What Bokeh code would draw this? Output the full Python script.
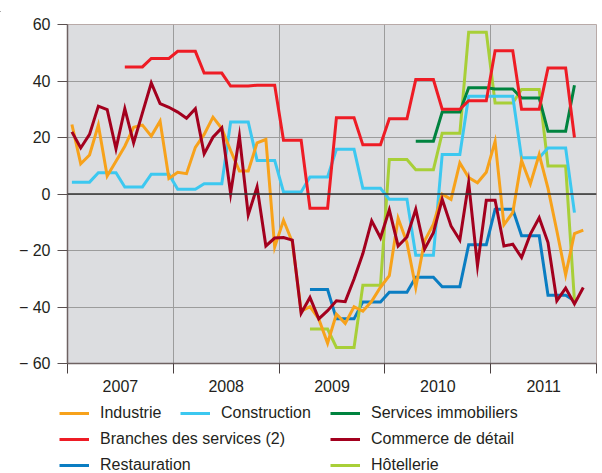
from bokeh.plotting import figure
from bokeh.models import FixedTicker, Legend, LegendItem, Span, Div
from bokeh.layouts import column
from bokeh.embed import file_html
from bokeh.resources import INLINE

# ---------------- data (monthly, Jan 2007 = month 0) ----------------
year_labels = ["2007", "2008", "2009", "2010", "2011"]
y_ticks = [-60, -40, -20, 0, 20, 40, 60]
y_tick_labels = ["\u2212 60", "\u2212 40", "\u2212 20", "0", "20", "40", "60"]

industrie_start = 0
industrie = [24.6, 10.7, 13.8, 24.4, 6.4, 11.6, 16.9, 23.6, 24.4, 20.5, 25.8, 5.5,
             7.7, 7.2, 16.5, 21.1, 27.2, 23.2, 15.4, 8.1, 8.1, 18.1, 19.3, -18.8,
             -9.3, -17.0, -41.5, -39.9, -44.2, -52.8, -42.5, -45.8, -39.9, -41.5, -38.0, -33.0,
             -28.9, -8.6, -17.2, -33.1, -16.6, -10.7, -0.1, -1.9, 11.0, 5.8, 4.0, 7.7,
             18.6, -10.9, -6.6, 11.9, 3.6, 14.0, 2.0, -13.0, -28.6, -14.0, -12.8]

commerce_start = 0
commerce = [22.0, 16.3, 21.1, 31.1, 29.9, 16.0, 30.2, 18.1, 28.7, 39.3, 32.0, 30.7,
            29.0, 26.8, 30.2, 14.2, 20.1, 23.4, 0.1, 20.5, -7.4, 2.5, -18.4, -15.6,
            -15.4, -16.3, -42.2, -36.6, -44.2, -41.3, -37.8, -38.1, -30.1, -21.1, -9.5, -15.5,
            -5.6, -18.4, -15.2, -5.4, -19.5, -13.7, -1.9, -11.3, -16.3, 4.0, -25.4, -2.2,
            -2.2, -18.4, -17.8, -22.5, -14.2, -8.4, -17.2, -37.8, -33.3, -38.9, -33.1]

construction_start = 0
construction = [4.2, 4.2, 4.2, 7.5, 7.5, 7.5, 2.5, 2.5, 2.5, 7.0, 7.0, 7.0,
                1.7, 1.7, 1.7, 3.6, 3.6, 3.6, 25.5, 25.5, 25.5, 11.9, 11.9, 11.9,
                0.7, 0.7, 0.7, 6.0, 6.0, 6.0, 15.8, 15.8, 15.8, 2.0, 2.0, 2.0,
                -1.9, -1.9, -1.9, -21.7, -21.7, -21.7, 14.0, 14.0, 14.0, 34.6, 34.6, 34.6,
                34.6, 34.6, 34.6, 12.8, 12.8, 12.8, 16.3, 16.3, 16.3, -6.6]

branches_start = 6
branches = [45.0, 45.0, 45.0, 48.0, 48.0, 48.0,
            50.5, 50.5, 50.5, 42.8, 42.8, 42.8, 38.2, 38.2, 38.2, 38.5, 38.5, 38.5,
            19.0, 19.0, 19.0, -5.0, -5.0, -5.0, 27.0, 27.0, 27.0, 17.4, 17.4, 17.4,
            26.6, 26.6, 26.6, 40.5, 40.5, 40.5, 30.0, 30.0, 30.0, 33.0, 33.0, 33.0,
            50.7, 50.7, 50.7, 30.0, 30.0, 30.0, 44.6, 44.6, 44.6, 20.0]

immobiliers_start = 39
immobiliers = [18.7, 18.7, 18.7, 29.0, 29.0, 29.0, 37.6, 37.6, 37.6,
               37.2, 37.2, 37.2, 34.0, 34.0, 34.0, 22.2, 22.2, 22.2, 38.5]

restauration_start = 27
restauration = [-33.8, -33.8, -33.8, -44.2, -44.2, -44.2, -38.2, -38.2, -38.2,
                -34.8, -34.8, -34.8, -29.5, -29.5, -29.5, -32.8, -32.8, -32.8, -18.0, -18.0, -18.0,
                -5.4, -5.4, -5.4, -14.8, -14.8, -14.8, -35.8, -35.8, -35.8, -37.8]

hotellerie_start = 27
hotellerie = [-47.8, -47.8, -47.8, -54.3, -54.3, -54.3, -32.3, -32.3, -32.3,
              12.2, 12.2, 12.2, 8.6, 8.6, 8.6, 21.5, 21.5, 21.5, 57.3, 57.3, 57.3,
              32.2, 32.2, 32.2, 37.0, 37.0, 37.0, 9.9, 9.9, 9.9, -37.8]

# ---------------- style ----------------
FONT = "Liberation Sans"
TXT = "#231f20"
W = 600

series = [
    ("Restauration", restauration_start, restauration, "#0a7dc2"),
    ("Hôtellerie", hotellerie_start, hotellerie, "#a8cf38"),
    ("Services immobiliers", immobiliers_start, immobiliers, "#00833f"),
    ("Construction", construction_start, construction, "#3cc8f0"),
    ("Industrie", industrie_start, industrie, "#f7a21b"),
    ("Branches des services (2)", branches_start, branches, "#ee1c25"),
    ("Commerce de détail", commerce_start, commerce, "#a3001e"),
]


def xs(start, vals):
    return [start + i + 0.5 for i in range(len(vals))]


def bare(fig):
    fig.frame_align = False
    fig.axis.visible = False
    fig.grid.visible = False
    fig.outline_line_color = None


# ---------------- top rule (thin gray line across the page) ----------------
rule = Div(text='<div style="width:600px;height:1px;margin-top:4px;'
                'border-top:1px solid #8f8f8f;"></div>',
           width=W, height=5, margin=0)

# ---------------- main chart ----------------
p = figure(width=W, height=393, x_range=(0, 60), y_range=(-60, 60),
           output_backend="svg", toolbar_location=None,
           min_border_left=67, min_border_right=4, min_border_top=19, min_border_bottom=35)
p.frame_align = False
p.background_fill_color = "#dcdde0"
p.border_fill_color = "white"
p.outline_line_color = "#b8aaa8"
p.outline_line_width = 1

for name, st, vals, col in series:
    p.line(xs(st, vals), vals, line_color=col, line_width=3, line_join="miter")

p.add_layout(Span(location=0, dimension="width", line_color="#333333", line_width=1.5))

p.ygrid.ticker = FixedTicker(ticks=y_ticks)
p.ygrid.grid_line_color = "#9c9c9c"
p.ygrid.grid_line_width = 1
p.xgrid.ticker = FixedTicker(ticks=[12 * i for i in range(len(year_labels) + 1)])
p.xgrid.grid_line_color = "#9c9c9c"
p.xgrid.grid_line_width = 1

ya = p.yaxis[0]
ya.ticker = FixedTicker(ticks=y_ticks)
ya.major_label_overrides = {t: l for t, l in zip(y_ticks, y_tick_labels)}
ya.major_tick_out = 10
ya.major_tick_in = 0
ya.minor_tick_line_color = None
ya.major_tick_line_color = "#5a5050"
ya.axis_line_color = "#6e6262"
ya.axis_line_width = 1.5
ya.major_label_standoff = 7
ya.major_label_text_font = FONT
ya.major_label_text_font_size = "16px"
ya.major_label_text_color = TXT

xa = p.xaxis[0]
mid = [12 * i + 6 for i in range(len(year_labels))]
xa.ticker = FixedTicker(ticks=mid, minor_ticks=[12 * i for i in range(len(year_labels) + 1)])
xa.major_label_overrides = {m: l for m, l in zip(mid, year_labels)}
xa.major_tick_out = 0
xa.major_tick_in = 0
xa.minor_tick_out = 10
xa.minor_tick_in = 0
xa.minor_tick_line_color = "#4a4040"
xa.minor_tick_line_width = 1
xa.axis_line_color = "#6e6262"
xa.axis_line_width = 1.5
xa.major_label_standoff = 6
xa.major_label_text_font = FONT
xa.major_label_text_font_size = "16px"
xa.major_label_text_color = TXT

# ---------------- legend panel ----------------
# series drawn again far outside this panel's visible range; only legend sources
lg = figure(width=W, height=75, x_range=(0, 1), y_range=(1000, 1001),
            output_backend="svg", toolbar_location=None,
            min_border_left=0, min_border_right=0, min_border_top=0, min_border_bottom=0)
bare(lg)
lg.background_fill_color = "white"
lg.border_fill_color = "white"

lrend = {}
for name, st, vals, col in series:
    lrend[name] = lg.line(xs(st, vals), vals, line_color=col, line_width=3)


def add_legend(names, x, y):
    items = [LegendItem(label=n, renderers=[lrend[n]]) for n in names]
    leg = Legend(items=items, location=(x, y), orientation="vertical",
                 padding=0, margin=0, spacing=8, label_height=18, glyph_height=18,
                 glyph_width=30, label_standoff=11, border_line_color=None,
                 background_fill_alpha=0, label_text_font=FONT,
                 label_text_font_size="16px", label_text_color=TXT)
    lg.add_layout(leg, "center")


add_legend(["Industrie", "Branches des services (2)", "Restauration"], 59, -1)
add_legend(["Construction"], 180, 51)
add_legend(["Services immobiliers", "Commerce de détail", "Hôtellerie"], 330, -1)

layout = column(rule, p, lg, spacing=0)
open("out.html", "w").write(file_html(layout, INLINE))
